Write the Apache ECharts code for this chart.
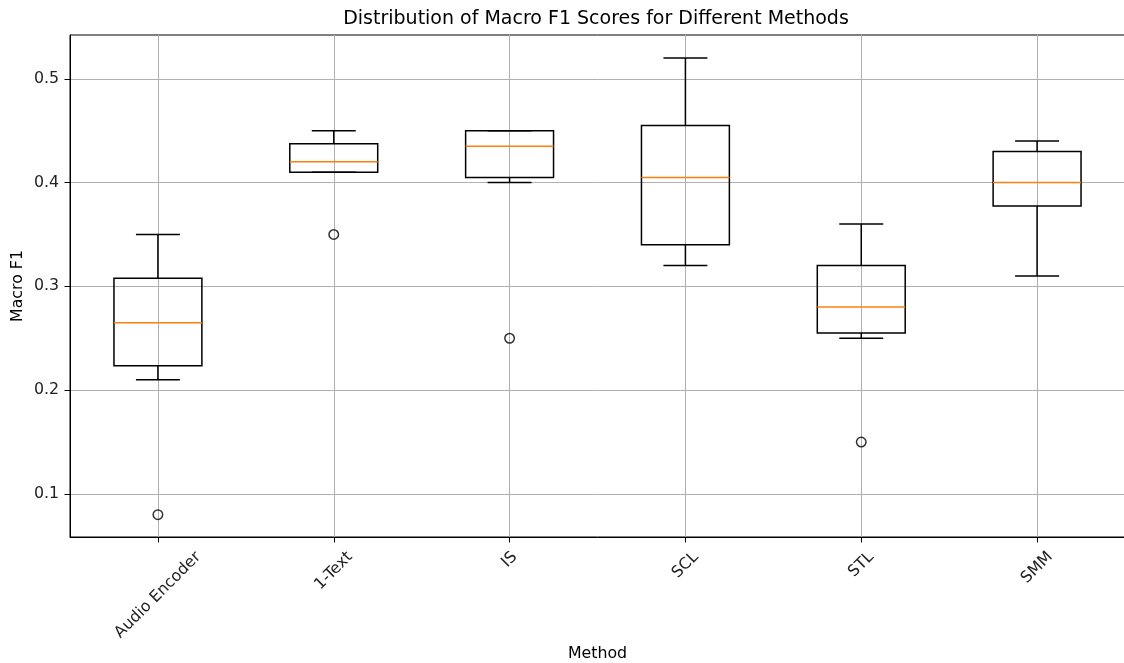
<!DOCTYPE html>
<html>
<head>
<meta charset="utf-8">
<script src="https://cdn.jsdelivr.net/npm/echarts@6/dist/echarts.min.js"></script>
<style>
    html, body { margin: 0; padding: 0; background: #fff; }
    #chart { width: 1124px; height: 663px; }
</style>
</head>
<body>
<div id="chart"></div>
<script>
// box statistics per method
var categories = ['Audio Encoder', '1-Text', 'IS', 'SCL', 'STL', 'SMM'];
var whiskerLow = [0.21, 0.41, 0.40, 0.32, 0.25, 0.31];
var q1Values = [0.2236, 0.41, 0.405, 0.34, 0.255, 0.3775];
var medians = [0.265, 0.42, 0.435, 0.405, 0.28, 0.40];
var q3Values = [0.3077, 0.4375, 0.45, 0.455, 0.32, 0.43];
var whiskerHigh = [0.35, 0.45, 0.45, 0.52, 0.36, 0.44];

// fliers
var outlierMethods = ['Audio Encoder', '1-Text', 'IS', 'STL'];
var outlierValues = [0.08, 0.35, 0.25, 0.15];

var yTicks = [0.1, 0.2, 0.3, 0.4, 0.5];
var yMin = 0.0585;
var yMax = 0.5422;

var FONT = 'DejaVu Sans';
var TICK_SIZE = 15.8;
var TITLE_SIZE = 19;
var TITLE = 'Distribution of Macro F1 Scores for Different Methods';

var measureCtx = document.createElement('canvas').getContext('2d');
function textWidth(str, size) {
    measureCtx.font = size + 'px "' + FONT + '"';
    return measureCtx.measureText(str).width;
}

var positions = categories.map(function (c, i) { return i + 1; });
var boxData = categories.map(function (c, i) {
    return [positions[i], whiskerLow[i], q1Values[i], medians[i], q3Values[i], whiskerHigh[i]];
});
var labelData = categories.map(function (c, i) { return [positions[i], yMin]; });
var outlierData = outlierMethods.map(function (m, i) {
    return [categories.indexOf(m) + 1, outlierValues[i]];
});

function renderBox(params, api) {
    var x = api.value(0);
    var lo = api.coord([x, api.value(1)]);
    var q1 = api.coord([x, api.value(2)]);
    var med = api.coord([x, api.value(3)]);
    var q3 = api.coord([x, api.value(4)]);
    var hi = api.coord([x, api.value(5)]);
    var halfBox = api.size([0.25, 0])[0];
    var halfCap = api.size([0.125, 0])[0];
    var cx = q1[0];
    var black = { stroke: '#000', lineWidth: 1.5, fill: 'none' };
    return {
        type: 'group',
        children: [
            { type: 'line', shape: { x1: cx, y1: q3[1], x2: cx, y2: hi[1] }, style: black },
            { type: 'line', shape: { x1: cx, y1: q1[1], x2: cx, y2: lo[1] }, style: black },
            { type: 'line', shape: { x1: cx - halfCap, y1: hi[1], x2: cx + halfCap, y2: hi[1] }, style: black },
            { type: 'line', shape: { x1: cx - halfCap, y1: lo[1], x2: cx + halfCap, y2: lo[1] }, style: black },
            { type: 'rect', shape: { x: cx - halfBox, y: q3[1], width: halfBox * 2, height: q1[1] - q3[1] }, style: black },
            { type: 'line', shape: { x1: cx - halfBox, y1: med[1], x2: cx + halfBox, y2: med[1] }, style: { stroke: '#ff7f0e', lineWidth: 1.5 } }
        ]
    };
}

// rotated tick labels, centred under the tick like matplotlib does
function renderLabel(params, api) {
    var p = api.coord([api.value(0), api.value(1)]);
    var name = categories[params.dataIndex];
    var L = textWidth(name, TICK_SIZE);
    return {
        type: 'text',
        x: p[0],
        y: p[1] + 11 + 0.354 * (L + TICK_SIZE * 1.17),
        rotation: Math.PI / 4,
        style: {
            text: name,
            font: TICK_SIZE + 'px "' + FONT + '"',
            fill: '#222',
            align: 'center',
            verticalAlign: 'middle'
        }
    };
}

var chart = echarts.init(document.getElementById('chart'), null, { renderer: 'canvas' });
var plotLeft = 70;
var plotRight = 1125;

var option = {
    animation: false,
    backgroundColor: '#fff',
    textStyle: { fontFamily: FONT },
    title: {
        text: TITLE,
        left: 596 - textWidth(TITLE, TITLE_SIZE) / 2,
        top: 10,
        padding: 0,
        textStyle: { fontSize: TITLE_SIZE, fontWeight: 'normal', color: '#000', fontFamily: FONT }
    },
    grid: {
        left: plotLeft,
        right: 1124 - plotRight,
        top: 35,
        bottom: 126,
        show: true,
        borderColor: '#000',
        borderWidth: 1,
        containLabel: false,
        outerBoundsMode: 'none'
    },
    xAxis: {
        type: 'value',
        min: 0.5,
        max: 6.5,
        name: 'Method',
        nameLocation: 'middle',
        nameGap: 109,
        nameTextStyle: { fontSize: TICK_SIZE, color: '#000' },
        axisLine: { show: true, lineStyle: { color: '#000', width: 1 } },
        axisTick: { show: true, length: 5.5, customValues: positions, lineStyle: { color: '#000', width: 1 } },
        axisLabel: { show: false },
        splitLine: { show: true, lineStyle: { color: '#b0b0b0', width: 1 } }
    },
    yAxis: {
        type: 'value',
        min: yMin,
        max: yMax,
        name: 'Macro F1',
        nameLocation: 'middle',
        nameGap: 44,
        nameMoveOverlap: false,
        nameTextStyle: { fontSize: TICK_SIZE, color: '#000' },
        axisLine: { show: true, lineStyle: { color: '#000', width: 1 } },
        axisTick: { show: true, length: 5.5, customValues: yTicks, lineStyle: { color: '#000', width: 1 } },
        axisLabel: {
            customValues: yTicks,
            fontSize: TICK_SIZE,
            color: '#222',
            margin: 11,
            formatter: function (v) { return v.toFixed(1); }
        },
        splitLine: { show: true, lineStyle: { color: '#b0b0b0', width: 1 } }
    },
    series: [
        {
            type: 'custom',
            renderItem: renderBox,
            encode: { x: 0, y: [1, 2, 3, 4, 5] },
            data: boxData,
            z: 3
        },
        {
            type: 'scatter',
            data: outlierData,
            symbol: 'circle',
            symbolSize: 9.5,
            itemStyle: { color: 'rgba(0,0,0,0)', borderColor: '#000', borderWidth: 1.5 },
            z: 4
        },
        {
            type: 'custom',
            renderItem: renderLabel,
            clip: false,
            encode: { x: 0, y: 1 },
            data: labelData,
            silent: true,
            z: 5
        }
    ]
};
chart.setOption(option);
</script>
</body>
</html>
